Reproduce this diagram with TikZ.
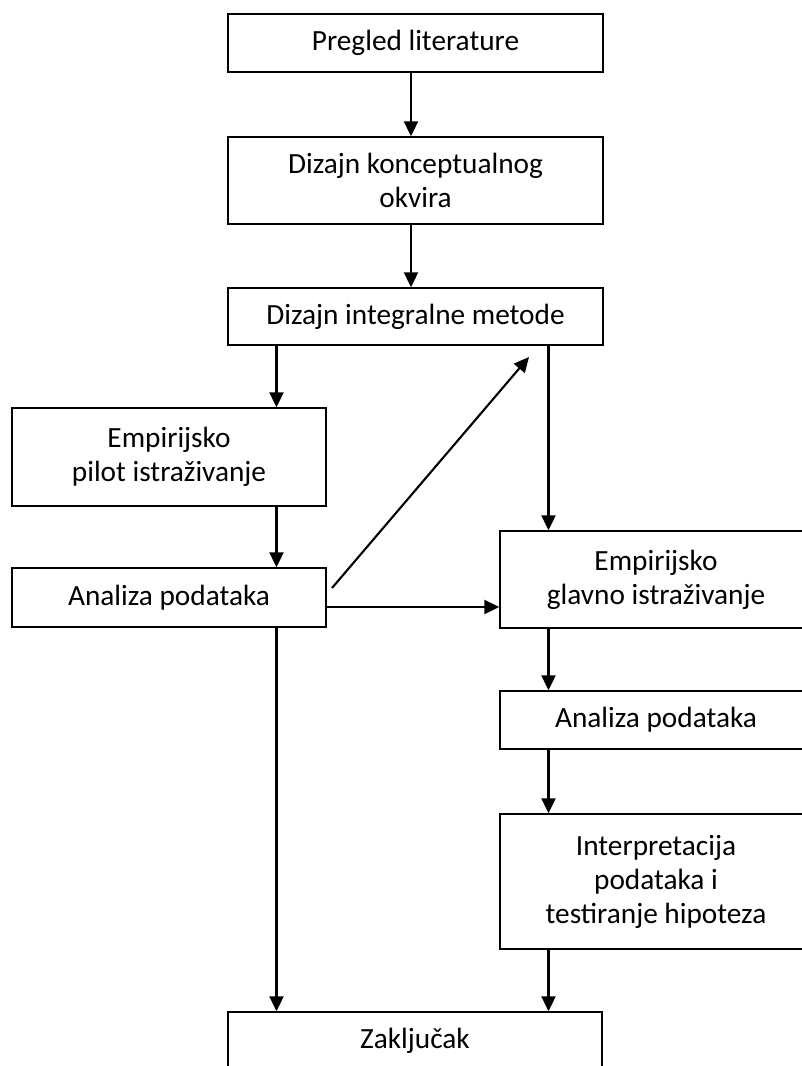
\documentclass[tikz,border=0pt]{standalone}
\usepackage{fontspec}
\setmainfont{Carlito}
\usetikzlibrary{arrows.meta,calc}
\tikzset{
  box/.style={draw=black, line width=1.4pt, fill=white, align=center, inner sep=0pt,
    font=\fontsize{29.3}{34}\selectfont},
  arr/.style={line width=2.1pt, -{Triangle[length=15pt,width=14pt]}}
}
\begin{document}
\begin{tikzpicture}[x=1pt,y=-1pt]
\useasboundingbox (0,0) rectangle (802,1066);
\clip (0,0) rectangle (802,1066);
\fill[white] (0,0) rectangle (802,1066);
% boxes
\node[box, minimum width=375pt, minimum height=58pt] (b1) at (415.5,43) {Pregled literature};
\node[box, minimum width=375pt, minimum height=87pt] (b2) at (415.5,180.5) {Dizajn konceptualnog\\okvira};
\node[box, minimum width=375pt, minimum height=57pt] (b3) at (415.5,316.5) {Dizajn integralne metode};
\node[box, minimum width=314pt, minimum height=98pt] (b4) at (169,457) {Empirijsko\\pilot istraživanje};
\node[box, minimum width=314pt, minimum height=59pt] (b5) at (169,597.5) {Analiza podataka};
\node[box, minimum width=312pt, minimum height=97pt] (b6) at (656,579.5) {Empirijsko\\glavno istraživanje};
\node[box, minimum width=312pt, minimum height=58pt] (b7) at (656,720) {Analiza podataka};
\node[box, minimum width=312pt, minimum height=135pt] (b8) at (656,881.5) {Interpretacija\\podataka i\\testiranje hipoteza};
\node[box, minimum width=374pt, minimum height=58pt] (b9) at (415,1041) {Zaključak};
% helper coordinates for connector columns/rows
\coordinate (cA) at (411,0);
\coordinate (cL) at (276.5,0);
\coordinate (cR) at (548.5,0);
\coordinate (rH) at (0,607);
\coordinate (d1) at (332,588);
\coordinate (d2) at (529,357);
% connectors
\draw[arr] (b1.south -| cA) -- (b2.north -| cA);
\draw[arr] (b2.south -| cA) -- (b3.north -| cA);
\draw[arr] (b3.south -| cL) -- (b4.north -| cL);
\draw[arr] (b3.south -| cR) -- (b6.north -| cR);
\draw[arr] (b4.south -| cL) -- (b5.north -| cL);
\draw[arr] (b5.east |- rH) -- (b6.west |- rH);
\draw[arr] (d1) -- (d2);
\draw[arr] (b5.south -| cL) -- (b9.north -| cL);
\draw[arr] (b6.south -| cR) -- (b7.north -| cR);
\draw[arr] (b7.south -| cR) -- (b8.north -| cR);
\draw[arr] (b8.south -| cR) -- (b9.north -| cR);
\end{tikzpicture}
\end{document}
